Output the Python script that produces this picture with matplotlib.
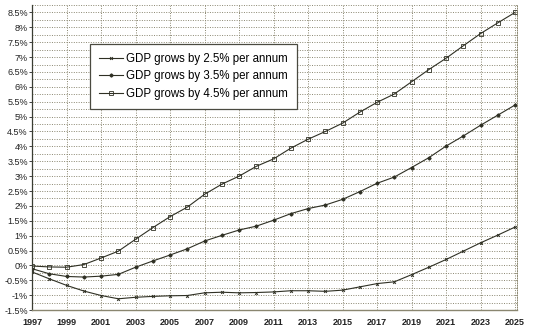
import numpy as np
import matplotlib.pyplot as plt
from matplotlib.ticker import MultipleLocator, FuncFormatter

plt.rcParams['font.family'] = ['Liberation Sans', 'DejaVu Sans']

years = list(range(1997, 2026))

# % change
gdp_25 = [-0.22, -0.45, -0.67, -0.86, -1.01, -1.12, -1.07, -1.04, -1.02, -1.01,
          -0.92, -0.90, -0.92, -0.91, -0.89, -0.85, -0.85, -0.87, -0.83, -0.72,
          -0.61, -0.55, -0.31, -0.06, 0.20, 0.48, 0.76, 1.02, 1.29]
gdp_35 = [-0.11, -0.28, -0.37, -0.39, -0.36, -0.30, -0.06, 0.15, 0.35, 0.56,
          0.82, 1.01, 1.19, 1.32, 1.52, 1.74, 1.91, 2.03, 2.22, 2.48,
          2.76, 2.97, 3.29, 3.62, 4.01, 4.35, 4.71, 5.05, 5.39]
gdp_45 = [-0.02, -0.05, -0.06, 0.03, 0.25, 0.48, 0.88, 1.27, 1.64, 1.96,
          2.39, 2.73, 3.00, 3.33, 3.58, 3.94, 4.24, 4.50, 4.78, 5.15,
          5.48, 5.76, 6.17, 6.58, 6.96, 7.38, 7.79, 8.15, 8.50]

labels = ["GDP grows by 2.5% per annum",
          "GDP grows by 3.5% per annum",
          "GDP grows by 4.5% per annum"]

line_col = '#2f3024'
grid_col = '#8a8670'

fig = plt.figure(figsize=(5.35, 3.32), dpi=100)
ax = fig.add_axes([0.06, 0.066, 0.906, 0.919])

ax.plot(years, gdp_25, color=line_col, lw=0.8, marker='x', ms=2.0, mew=0.7, label=labels[0])
ax.plot(years, gdp_35, color=line_col, lw=0.8, marker='D', ms=1.6, label=labels[1])
ax.plot(years, gdp_45, color=line_col, lw=0.8, marker='s', ms=3.2, mfc='none', mew=0.6, label=labels[2])

ax.set_xlim(1997, 2025.1)
ax.set_ylim(-1.5, 8.75)
ax.set_xticks(range(1997, 2026, 2))
ax.yaxis.set_major_locator(MultipleLocator(0.5))
ax.yaxis.set_minor_locator(MultipleLocator(0.25))
ax.yaxis.set_major_formatter(FuncFormatter(lambda v, p: f"{v:g}%" if v <= 8.5 else ""))

ax.grid(True, which='both', axis='y', ls=(0, (1, 1.5)), color=grid_col, lw=0.7)
ax.grid(True, which='major', axis='x', ls=(0, (1, 1.5)), color=grid_col, lw=0.7)
ax.tick_params(which='minor', length=0)
ax.tick_params(axis='y', length=2, width=0.6, labelsize=6.5, colors='#222222', pad=1)
ax.tick_params(axis='x', length=0, labelsize=6.5, colors='#222222', pad=6)
for lab in ax.get_xticklabels():
    lab.set_fontweight('bold')

ax.spines['left'].set_color('#3a3d33')
ax.spines['left'].set_linewidth(0.9)
ax.spines['bottom'].set_color('#8a8670')
ax.spines['bottom'].set_linewidth(1.0)
ax.spines['top'].set_visible(False)
ax.spines['right'].set_linestyle((0, (1, 1.5)))
ax.spines['right'].set_color(grid_col)
ax.spines['right'].set_linewidth(0.7)

leg = ax.legend(loc='upper left', bbox_to_anchor=(0.12, 0.872), fontsize=8.3,
                frameon=True, fancybox=False, handlelength=2.0, handletextpad=0.3,
                borderpad=0.8, labelspacing=0.45, borderaxespad=0)
leg.get_frame().set_edgecolor('#4a4a40')
leg.get_frame().set_linewidth(0.9)
leg.get_frame().set_alpha(1)

fig.savefig('out.png', dpi=100)
